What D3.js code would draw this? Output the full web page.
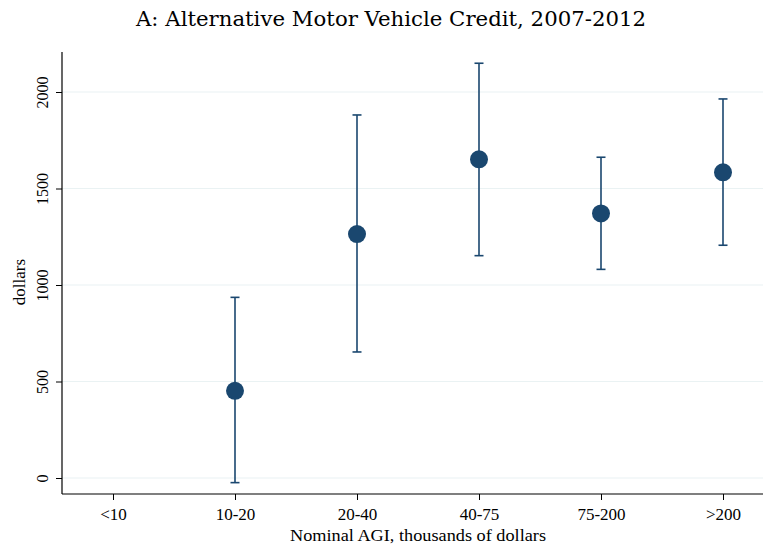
<!DOCTYPE html>
<html><head><meta charset="utf-8">
<script src="https://cdn.jsdelivr.net/npm/d3@7"></script>
<style>body{margin:0;background:#fff}svg{display:block}</style>
</head><body>
<svg id="c" width="765" height="549"></svg>
<script>
const categories = ["<10","10-20","20-40","40-75","75-200",">200"];
const estimates = [null, 452, 1264, 1651, 1371, 1584];
const ciLow    = [null, -24, 653, 1152, 1081, 1206];
const ciHigh   = [null, 936, 1881, 2149, 1662, 1964];
const yTicks = [0, 500, 1000, 1500, 2000];

const SERIF = "'Liberation Serif', 'Times New Roman', serif";
const svg = d3.select("#c");
const L = 62, R = 763, T = 52, B = 494;
const x = d3.scaleLinear().domain([1, 6]).range([113, 723]);
const y = d3.scaleLinear().domain([0, 2000]).range([478, 92]);
const navy = "#1a476f";

// gridlines
svg.append("g").selectAll("line").data(yTicks).join("line")
  .attr("x1", L).attr("x2", R).attr("y1", d => y(d)).attr("y2", d => y(d))
  .attr("stroke", "#eaf2f3").attr("stroke-width", 1.2);

// y axis
const ya = svg.append("g").attr("transform", `translate(${L},0)`)
  .call(d3.axisLeft(y).tickValues(yTicks).tickFormat(d3.format("d")).tickSize(6));
ya.attr("font-family", null);
ya.select(".domain").remove();
ya.selectAll(".tick line").attr("stroke", "#000");
ya.selectAll("text").attr("transform", "rotate(-90)")
  .attr("x", 0).attr("y", -14).attr("dy", "0").attr("text-anchor", "middle")
  .style("font-family", SERIF).style("font-size", "16px").attr("fill", "#000");
svg.append("line").attr("x1", L).attr("x2", L).attr("y1", T).attr("y2", B).attr("stroke", "#000").attr("stroke-width", 1.2);

// x axis
const xa = svg.append("g").attr("transform", `translate(0,${B})`)
  .call(d3.axisBottom(x).tickValues([1,2,3,4,5,6]).tickFormat((d,i) => categories[i]).tickSize(6).tickPadding(8));
xa.attr("font-family", null);
xa.select(".domain").remove();
xa.selectAll(".tick line").attr("stroke", "#000");
xa.selectAll("text").style("font-family", SERIF).style("font-size", "17px").attr("fill", "#000");
svg.append("line").attr("x1", L).attr("x2", R).attr("y1", B).attr("y2", B).attr("stroke", "#000").attr("stroke-width", 1.2);

// labels
svg.append("text").attr("x", 391).attr("y", 26).attr("text-anchor", "middle")
  .style("font-family", "'DejaVu Serif', serif").style("font-size", "20px")
  .attr("textLength", 510).attr("lengthAdjust", "spacingAndGlyphs")
  .text("A: Alternative Motor Vehicle Credit, 2007-2012");
svg.append("text").attr("x", 418).attr("y", 541).attr("text-anchor", "middle")
  .style("font-family", SERIF).style("font-size", "17px")
  .attr("textLength", 256).attr("lengthAdjust", "spacingAndGlyphs")
  .text("Nominal AGI, thousands of dollars");
svg.append("text").attr("transform", "translate(25,282) rotate(-90)").attr("text-anchor", "middle")
  .style("font-family", SERIF).style("font-size", "17px")
  .text("dollars");

// error bars
const data = categories.map((c,i) => ({i: i+1, est: estimates[i], lo: ciLow[i], hi: ciHigh[i]})).filter(d => d.est !== null);
const g = svg.append("g");
g.selectAll("line.v").data(data).join("line").attr("class","v")
  .attr("x1", d => x(d.i)).attr("x2", d => x(d.i)).attr("y1", d => y(d.lo)).attr("y2", d => y(d.hi))
  .attr("stroke", navy).attr("stroke-width", 1.6);
["lo","hi"].forEach(k => {
  g.selectAll("line.c"+k).data(data).join("line").attr("class","c"+k)
    .attr("x1", d => x(d.i)-4.5).attr("x2", d => x(d.i)+4.5).attr("y1", d => y(d[k])).attr("y2", d => y(d[k]))
    .attr("stroke", navy).attr("stroke-width", 1.6);
});
g.selectAll("circle").data(data).join("circle")
  .attr("cx", d => x(d.i)).attr("cy", d => y(d.est)).attr("r", 9).attr("fill", navy);
</script>
</body></html>
